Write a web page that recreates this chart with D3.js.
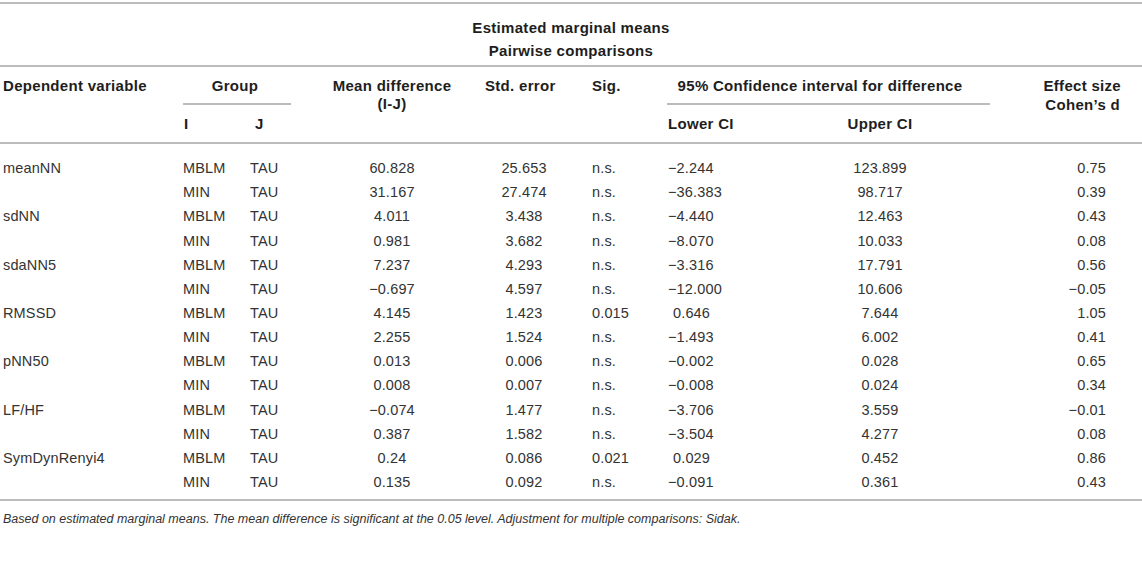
<!DOCTYPE html>
<html>
<head>
<meta charset="utf-8">
<script src="https://cdn.jsdelivr.net/npm/d3@7"></script>
<style>
    body { margin: 0; background: #fff; }
    svg text { font-family: "Liberation Sans", Arial, sans-serif; }
    .head { font-weight: bold; font-size: 15px; letter-spacing: 0.3px; fill: #1e1e1e; }
    .cell { font-size: 14.5px; letter-spacing: 0.15px; fill: #333; }
    .note { font-size: 12.5px; font-style: italic; fill: #333; }
    .rule { stroke: #bcbcbc; stroke-width: 2px; }
</style>
</head>
<body>
<div id="table"></div>
<script>
var titles = ["Estimated marginal means", "Pairwise comparisons"];
var variables = ["meanNN", "sdNN", "sdaNN5", "RMSSD", "pNN50", "LF/HF", "SymDynRenyi4"];
var groupI = ["MBLM", "MIN"];
var groupJ = "TAU";
var meanDiff = ["60.828", "31.167", "4.011", "0.981", "7.237", "\u22120.697", "4.145", "2.255",
    "0.013", "0.008", "\u22120.074", "0.387", "0.24", "0.135"];
var stdError = ["25.653", "27.474", "3.438", "3.682", "4.293", "4.597", "1.423", "1.524",
    "0.006", "0.007", "1.477", "1.582", "0.086", "0.092"];
var sig = ["n.s.", "n.s.", "n.s.", "n.s.", "n.s.", "n.s.", "0.015", "n.s.",
    "n.s.", "n.s.", "n.s.", "n.s.", "0.021", "n.s."];
var lowerCI = ["\u22122.244", "\u221236.383", "\u22124.440", "\u22128.070", "\u22123.316", "\u221212.000", "0.646", "\u22121.493",
    "\u22120.002", "\u22120.008", "\u22123.706", "\u22123.504", "0.029", "\u22120.091"];
var upperCI = ["123.899", "98.717", "12.463", "10.033", "17.791", "10.606", "7.644", "6.002",
    "0.028", "0.024", "3.559", "4.277", "0.452", "0.361"];
var cohenD = ["0.75", "0.39", "0.43", "0.08", "0.56", "\u22120.05", "1.05", "0.41",
    "0.65", "0.34", "\u22120.01", "0.08", "0.86", "0.43"];
var footnote = "Based on estimated marginal means. The mean difference is significant at the 0.05 level. Adjustment for multiple comparisons: Sidak.";

var width = 1142,
    height = 561;

// one row per comparison (variable x group I)
var rows = [];
variables.forEach(function (v, k) {
    groupI.forEach(function (g, m) {
        var i = k * groupI.length + m;
        rows.push({
            variable: m === 0 ? v : "",
            i: g,
            j: groupJ,
            mean: meanDiff[i],
            se: stdError[i],
            sig: sig[i],
            lower: lowerCI[i],
            upper: upperCI[i],
            d: cohenD[i]
        });
    });
});

var y = d3.scaleBand()
    .domain(d3.range(rows.length))
    .range([156, 494]);

// column anchors
var columns = [
    {key: "variable", x: 3, anchor: "start"},
    {key: "i", x: 183, anchor: "start"},
    {key: "j", x: 250, anchor: "start"},
    {key: "mean", x: 392, anchor: "middle"},
    {key: "se", x: 524, anchor: "middle"},
    {key: "sig", x: 592, anchor: "start"},
    {key: "lower", x: 668, anchor: "start"},
    {key: "upper", x: 880, anchor: "middle"},
    {key: "d", x: 1106, anchor: "end"}
];

var svg = d3.select("#table").append("svg")
    .attr("width", width)
    .attr("height", height);

// horizontal rules
var rules = [
    [0, width, 3], [0, width, 66], [183, 291, 104], [667, 990, 104], [0, width, 143], [0, width, 500]
];
svg.selectAll(".rule")
    .data(rules)
    .enter().append("line")
    .attr("class", "rule")
    .attr("x1", function (d) { return d[0]; })
    .attr("x2", function (d) { return d[1]; })
    .attr("y1", function (d) { return d[2]; })
    .attr("y2", function (d) { return d[2]; });

// titles
svg.selectAll(".title")
    .data(titles)
    .enter().append("text")
    .attr("class", "head title")
    .attr("x", width / 2)
    .attr("y", function (d, i) { return 28 + i * 23; })
    .attr("dy", "0.35em")
    .style("text-anchor", "middle")
    .text(function (d) { return d; });

// column headers
var headers = [
    {t: "Dependent variable", x: 3, y: 86, a: "start"},
    {t: "Group", x: 235, y: 86, a: "middle"},
    {t: "Mean difference", x: 392, y: 86, a: "middle"},
    {t: "(I-J)", x: 392, y: 104, a: "middle"},
    {t: "Std. error", x: 485, y: 86, a: "start"},
    {t: "Sig.", x: 592, y: 86, a: "start"},
    {t: "95% Confidence interval for difference", x: 820, y: 86, a: "middle"},
    {t: "Effect size", x: 1121, y: 86, a: "end"},
    {t: "Cohen\u2019s d", x: 1120, y: 105, a: "end"},
    {t: "I", x: 184, y: 124, a: "start"},
    {t: "J", x: 255, y: 124, a: "start"},
    {t: "Lower CI", x: 668, y: 124, a: "start"},
    {t: "Upper CI", x: 880, y: 124, a: "middle"}
];
svg.selectAll(".colhead")
    .data(headers)
    .enter().append("text")
    .attr("class", "head colhead")
    .attr("x", function (d) { return d.x; })
    .attr("y", function (d) { return d.y; })
    .attr("dy", "0.35em")
    .style("text-anchor", function (d) { return d.a; })
    .text(function (d) { return d.t; });

// body
var row = svg.selectAll(".row")
    .data(rows)
    .enter().append("g")
    .attr("class", "row")
    .attr("transform", function (d, i) {
        return "translate(0," + (y(i) + y.bandwidth() / 2) + ")";
    });

columns.forEach(function (c) {
    row.append("text")
        .attr("class", "cell")
        .attr("x", c.x)
        .attr("dy", "0.35em")
        // positive lower bounds sit under the digits, not the minus sign
        .attr("dx", function (d) {
            return c.key === "lower" && d.lower.charAt(0) !== "\u2212" ? 5 : 0;
        })
        .style("text-anchor", c.anchor)
        .text(function (d) { return d[c.key]; });
});

svg.append("text")
    .attr("class", "note")
    .attr("x", 3)
    .attr("y", 519)
    .attr("dy", "0.35em")
    .text(footnote);
</script>
</body>
</html>
